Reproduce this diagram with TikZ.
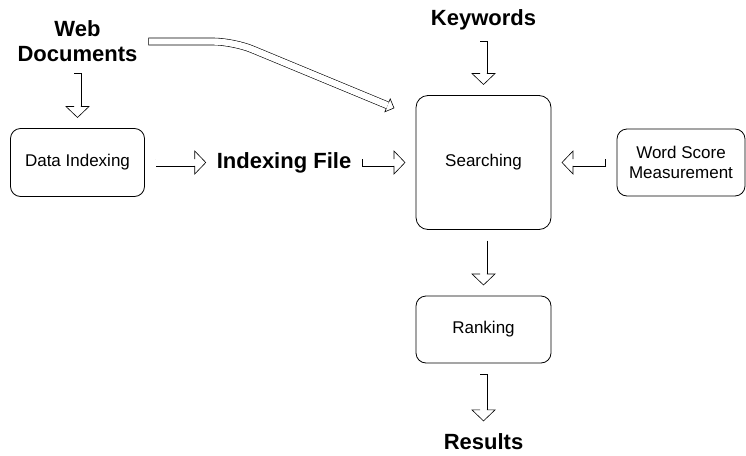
\documentclass[tikz,border=0pt]{standalone}
\usepackage{fontspec}
\setmainfont{Liberation Sans}
\usetikzlibrary{decorations.markings}

\tikzset{
  box/.style={draw, line width=0.8pt, rounded corners=10pt, align=center,
    font=\fontsize{17}{20}\selectfont, minimum width=134pt, minimum height=68pt, outer sep=11pt},
  bigtext/.style={font=\fontsize{22}{25}\selectfont\bfseries, align=center, inner sep=0pt, outer sep=11pt},
  % hollow block arrow: {shaft width}{half head width}{head length}
  hollow/.style n args={3}{draw=black, line width=#1, shorten >=#3,
    postaction={draw=white, line width=#1-1.2pt, shorten >=#3, shorten <=0.6pt},
    postaction={decorate, decoration={markings, mark=at position 1 with {
      \draw[draw=black, line width=0.6pt, sharp corners, line join=miter, shorten >=0pt, shorten <=0pt]
        (-#3,#1/2-0.6pt) -- (-#3,#2) -- (0pt,0pt) -- (-#3,-#2) -- (-#3,-#1/2+0.6pt);}}}},
  fat/.style={hollow={8pt}{11.5pt}{11pt}},
  slim/.style={hollow={7.6pt}{7pt}{7pt}}
}

\begin{document}
\begin{tikzpicture}[x=1pt, y=-1pt]
  \useasboundingbox (0,0) rectangle (746,455);
  % inputs
  \node[bigtext] (webdoc) at (77.5,41.5) {Web\\Documents};
  \node[bigtext] (keywords) at (483.5,20) {Keywords};
  % boxes
  \node[box] (dataidx) at (77.5,162.5) {Data Indexing};
  \node[bigtext] (idxfile) at (284,162.5) {Indexing File};
  \node[box, minimum width=135pt, minimum height=134pt, rounded corners=12pt] (search) at (483.5,162.5) {Searching};
  \node[box, minimum width=128pt, minimum height=67pt] (wordscore) at (681,162.5) {Word Score\\Measurement};
  \node[box, minimum width=135pt, minimum height=67pt] (ranking) at (483.5,329.5) {Ranking};
  \node[bigtext, outer sep=13pt] (results) at (483.5,442) {Results};
  \coordinate (bendtip) at (394,108);

  % arrows
  \draw[fat] (webdoc) -- (dataidx);
  \draw[fat] (dataidx) -- (idxfile);
  \draw[fat] (idxfile) -- (search);
  \draw[fat] (keywords) -- (search);
  \draw[fat] (wordscore) -- (search);
  \draw[fat] (search) -- (ranking);
  \draw[fat] (ranking) -- (results);
  \draw[slim, rounded corners=20pt] (webdoc.east) -- ++(85,0) -- (bendtip);
\end{tikzpicture}
\end{document}
